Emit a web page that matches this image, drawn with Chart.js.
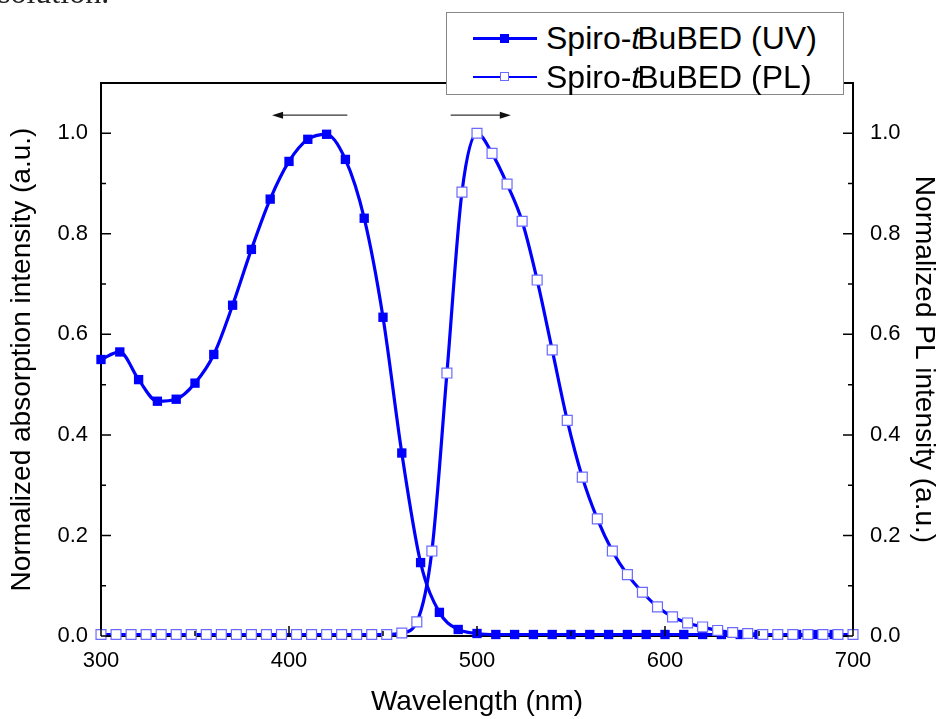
<!DOCTYPE html>
<html lang="en">
<head>
  <meta charset="UTF-8">
  <title>Spiro-tBuBED UV / PL</title>
  <script src="https://cdn.jsdelivr.net/npm/chart.js"></script>
  <style>
    body {
      margin: 0;
      background-color: white;
      font-family: 'Liberation Sans', Arial, sans-serif;
      overflow: hidden;
    }
    .wrap {
      position: relative;
      width: 941px;
      height: 719px;
    }
    .clipped {
      position: absolute;
      left: -2px;
      top: -24px;
      font-family: 'Liberation Serif', 'Times New Roman', serif;
      font-size: 32px;
      line-height: 32px;
      color: #222;
    }
    .legend {
      position: absolute;
      left: 446px;
      top: 12px;
      width: 396px;
      height: 81px;
      border: 1px solid #888;
      background: white;
    }
    .legend .row {
      position: absolute;
      left: 26px;
      height: 36px;
      display: flex;
      align-items: center;
      font-size: 32px;
      color: #000;
      white-space: nowrap;
    }
    .legend i { margin-right: -3px; }
    .legend .sample {
      position: relative;
      width: 64px;
      height: 3px;
      background: #0000ff;
      margin-right: 9px;
    }
    .legend .mark {
      position: absolute;
      left: 27px;
      top: -3px;
      width: 9px;
      height: 9px;
      box-sizing: border-box;
    }
    .legend .filled { background: #0000ff; }
    .legend .open { background: white; border: 1px solid #6a6aff; }
  </style>
</head>
<body>
  <div class="wrap">
    <div class="clipped">solution.</div>
    <canvas id="chart" width="941" height="719"></canvas>
    <div class="legend">
      <div class="row" style="top: 7px;"><span class="sample"><span class="mark filled"></span></span>Spiro-<i>t</i>BuBED (UV)</div>
      <div class="row" style="top: 46px;"><span class="sample" style="height:2px"><span class="mark open" style="top:-4px"></span></span>Spiro-<i>t</i>BuBED (PL)</div>
    </div>
  </div>
  <script>
    // absorption (UV), symbols every 10 nm
    const uvWavelength = [300, 310, 320, 330, 340, 350, 360, 370, 380, 390,
                          400, 410, 420, 430, 440, 450, 460, 470, 480, 490,
                          500, 510, 520, 530, 540, 550, 560, 570, 580, 590,
                          600, 610, 620, 630, 640, 650, 660, 670, 680, 690, 700];
    const uvIntensity = [0.550, 0.565, 0.510, 0.467, 0.471, 0.503, 0.560, 0.658, 0.769, 0.869,
                         0.944, 0.988, 0.998, 0.948, 0.831, 0.634, 0.364, 0.146, 0.047, 0.013,
                         0.005, 0.003, 0.003, 0.003, 0.003, 0.003, 0.003, 0.003, 0.003, 0.003,
                         0.003, 0.003, 0.003, 0.003, 0.003, 0.003, 0.003, 0.003, 0.003, 0.003, 0.003];

    // photoluminescence (PL), symbols every 8 nm
    const plWavelength = [300, 308, 316, 324, 332, 340, 348, 356, 364, 372,
                          380, 388, 396, 404, 412, 420, 428, 436, 444, 452,
                          460, 468, 476, 484, 492, 500, 508, 516, 524, 532,
                          540, 548, 556, 564, 572, 580, 588, 596, 604, 612,
                          620, 628, 636, 644, 652, 660, 668, 676, 684, 692, 700];
    const plIntensity = [0.003, 0.003, 0.003, 0.003, 0.003, 0.003, 0.003, 0.003, 0.003, 0.003,
                         0.003, 0.003, 0.003, 0.003, 0.003, 0.003, 0.003, 0.003, 0.003, 0.003,
                         0.006, 0.028, 0.169, 0.523, 0.883, 1.000, 0.960, 0.899, 0.825, 0.708,
                         0.569, 0.429, 0.316, 0.233, 0.169, 0.122, 0.087, 0.058, 0.038, 0.026,
                         0.018, 0.011, 0.007, 0.005, 0.003, 0.003, 0.003, 0.003, 0.003, 0.003, 0.003];

    // arrows above the peaks (data units: nm, intensity)
    const arrows = [
      { from: 431, to: 391, y: 1.036 },
      { from: 486, to: 518, y: 1.036 }
    ];

    const blue = '#0000ff';
    const font = { family: "'Liberation Sans', Arial, sans-serif", size: 22 };
    const titleFont = { family: "'Liberation Sans', Arial, sans-serif", size: 28 };

    function toPoints(xs, ys) {
      return xs.map((x, i) => ({ x: x, y: ys[i] }));
    }

    // inward tick marks, top frame line and arrows
    const decorations = {
      id: 'decorations',
      afterDraw(chart) {
        const { ctx, chartArea: a, scales } = chart;
        ctx.save();
        ctx.strokeStyle = '#000';
        ctx.lineWidth = 2;
        ctx.beginPath();
        ctx.moveTo(a.left - 1, a.top);
        ctx.lineTo(a.right + 1, a.top);
        ctx.stroke();

        ctx.lineWidth = 1.5;
        ctx.beginPath();
        scales.x.ticks.forEach(t => {
          const px = scales.x.getPixelForValue(t.value);
          const len = t.value % 100 === 0 ? 10 : 5;
          ctx.moveTo(px, a.bottom);
          ctx.lineTo(px, a.bottom - len);
        });
        scales.y.ticks.forEach(t => {
          const py = scales.y.getPixelForValue(t.value);
          const len = Math.round(t.value * 10) % 2 === 0 ? 10 : 5;
          ctx.moveTo(a.left, py);
          ctx.lineTo(a.left + len, py);
        });
        scales.y2.ticks.forEach(t => {
          const py = scales.y2.getPixelForValue(t.value);
          const len = Math.round(t.value * 10) % 2 === 0 ? 10 : 5;
          ctx.moveTo(a.right, py);
          ctx.lineTo(a.right - len, py);
        });
        ctx.stroke();

        ctx.strokeStyle = '#333';
        ctx.fillStyle = '#111';
        ctx.lineWidth = 1.2;
        arrows.forEach(ar => {
          const x0 = scales.x.getPixelForValue(ar.from);
          const x1 = scales.x.getPixelForValue(ar.to);
          const py = scales.y.getPixelForValue(ar.y);
          const dir = Math.sign(x1 - x0);
          ctx.beginPath();
          ctx.moveTo(x0, py);
          ctx.lineTo(x1 - dir * 8, py);
          ctx.stroke();
          ctx.beginPath();
          ctx.moveTo(x1, py);
          ctx.lineTo(x1 - dir * 11, py - 3.5);
          ctx.lineTo(x1 - dir * 11, py + 3.5);
          ctx.closePath();
          ctx.fill();
        });
        ctx.restore();
      }
    };

    function yTickLabel(v) {
      const n = Math.round(v * 10);
      return (n % 2 === 0 && n <= 10) ? (n / 10).toFixed(1) : '';
    }

    new Chart(document.getElementById('chart'), {
      type: 'line',
      data: {
        datasets: [
          {
            label: 'Spiro-tBuBED (PL)',
            data: toPoints(plWavelength, plIntensity),
            yAxisID: 'y2',
            borderColor: blue,
            borderWidth: 3.2,
            pointStyle: 'rect',
            pointRadius: 7,
            pointBackgroundColor: 'white',
            pointBorderColor: '#6a6aff',
            pointBorderWidth: 1.2,
            tension: 0.4,
            cubicInterpolationMode: 'monotone',
            clip: false,
            order: 1
          },
          {
            label: 'Spiro-tBuBED (UV)',
            data: toPoints(uvWavelength, uvIntensity),
            yAxisID: 'y',
            borderColor: blue,
            borderWidth: 3.2,
            pointStyle: 'rect',
            pointRadius: 6.6,
            pointBackgroundColor: blue,
            pointBorderColor: blue,
            pointBorderWidth: 0,
            tension: 0.4,
            cubicInterpolationMode: 'monotone',
            clip: false,
            order: 2
          }
        ]
      },
      options: {
        responsive: false,
        animation: false,
        layout: { padding: { top: 83 } },
        plugins: {
          legend: { display: false },
          tooltip: { enabled: false }
        },
        scales: {
          x: {
            type: 'linear',
            position: 'bottom',
            min: 300,
            max: 700,
            afterFit: s => { s.height = 83; },
            ticks: {
              stepSize: 50,
              color: '#000',
              font: font,
              padding: 12,
              maxRotation: 0,
              callback: v => (v % 100 === 0 ? String(v) : '')
            },
            grid: { drawOnChartArea: false, drawTicks: false },
            border: { display: true, color: '#000', width: 2 },
            title: {
              display: true,
              text: 'Wavelength (nm)',
              color: '#000',
              font: titleFont,
              padding: { top: 0, bottom: 0 }
            }
          },
          y: {
            position: 'left',
            min: 0,
            max: 1.1,
            afterFit: s => { s.width = 101; },
            ticks: {
              stepSize: 0.1,
              color: '#000',
              font: font,
              padding: 13,
              callback: yTickLabel
            },
            grid: { drawOnChartArea: false, drawTicks: false },
            border: { display: true, color: '#000', width: 2 },
            title: {
              display: true,
              text: 'Normalized absorption intensity (a.u.)',
              color: '#000',
              font: titleFont,
              padding: { top: 5, bottom: 5 }
            }
          },
          y2: {
            position: 'right',
            min: 0,
            max: 1.1,
            afterFit: s => { s.width = 88; },
            ticks: {
              stepSize: 0.1,
              color: '#000',
              font: font,
              padding: 17,
              callback: yTickLabel
            },
            grid: { drawOnChartArea: false, drawTicks: false },
            border: { display: true, color: '#000', width: 2 },
            title: {
              display: true,
              text: 'Normalized PL intensity (a.u.)',
              color: '#000',
              font: titleFont,
              padding: { top: 0, bottom: 0 }
            }
          }
        }
      },
      plugins: [decorations]
    });
  </script>
</body>
</html>
